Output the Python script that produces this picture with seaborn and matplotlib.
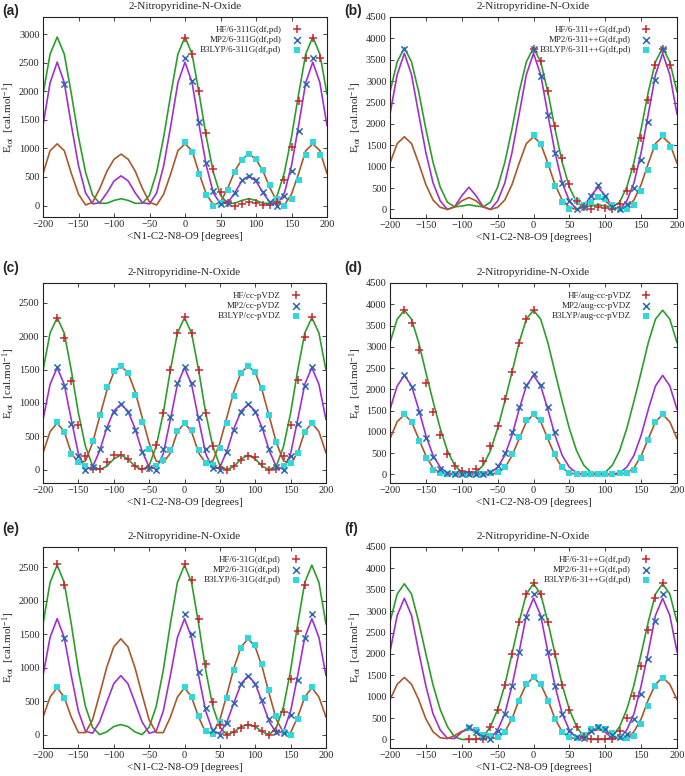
import matplotlib
matplotlib.use("Agg")
import matplotlib.pyplot as plt
import seaborn as sns
import numpy as np

# ---------------- data ----------------
ANG = list(range(-200, 201, 10))  # curve sample angles (deg)
R10 = lambda a, b: list(range(a, b + 1, 10))

# Panel (a) 6-311G(df,pd)
a_green = [1950, 2650, 2950, 2650, 1950, 1200, 580, 180, 40, 40, 90, 120, 90, 40, 40, 180, 580, 1200, 1950, 2650, 2950,
           2650, 1950, 1200, 580, 180, 40, 40, 90, 120, 90, 40, 40, 180, 580, 1200, 1950, 2650, 2950, 2650, 1950]
a_purple = [1400, 2150, 2510, 2150, 1400, 700, 220, 30, 50, 220, 430, 520, 430, 220, 50, 30, 220, 700, 1400, 2150, 2510,
            2150, 1400, 700, 220, 30, 50, 220, 430, 520, 430, 220, 50, 30, 220, 700, 1400, 2150, 2510, 2150, 1400]
a_brown = [560, 960, 1080, 960, 560, 200, 10, 60, 300, 600, 810, 900, 810, 600, 300, 60, 10, 200, 560, 960, 1080,
           960, 560, 200, 10, 60, 300, 600, 810, 900, 810, 600, 300, 60, 10, 200, 560, 960, 1080, 960, 560]
a_hf_x = R10(0, 190)
a_hf_y = [2940, 2660, 2010, 1270, 640, 230, 50, 0, 30, 60, 50, 10, 10, 60, 450, 1030, 1830, 2580, 2930, 2580]
a_mp2_x = [-170] + R10(0, 180)
a_mp2_y = [2120, 2590, 2180, 1460, 740, 250, 20, 40, 220, 440, 510, 440, 240, 60, 0, 170, 610, 1300, 2120, 2590]
a_b3_x = R10(0, 190)
a_b3_y = [1120, 930, 550, 180, 0, 40, 280, 580, 800, 910, 820, 630, 360, 110, 0, 110, 450, 880, 1120, 880]

# Panel (b) 6-311++G(df,pd)
b_green = [2750, 3450, 3780, 3450, 2750, 1880, 1100, 520, 170, 60, 80, 110, 80, 60, 170, 520, 1100, 1880, 2750, 3450, 3780,
           3450, 2750, 1880, 1100, 520, 170, 60, 80, 110, 80, 60, 170, 520, 1100, 1880, 2750, 3450, 3780, 3450, 2750]
b_purple = [2230, 3150, 3650, 3150, 2230, 1330, 620, 200, 0, 60, 320, 520, 320, 60, 0, 200, 620, 1330, 2230, 3150, 3650,
            3150, 2230, 1330, 620, 200, 0, 60, 320, 520, 320, 60, 0, 200, 620, 1330, 2230, 3150, 3650, 3150, 2230]
b_brown = [1080, 1540, 1700, 1540, 1080, 580, 220, 50, 0, 60, 200, 280, 200, 60, 0, 50, 220, 580, 1080, 1540, 1700,
           1540, 1080, 580, 220, 50, 0, 60, 200, 280, 200, 60, 0, 50, 220, 580, 1080, 1540, 1700, 1540, 1080]
b_hf_x = R10(0, 190)
b_hf_y = [3760, 3470, 2770, 1950, 1200, 600, 200, 50, 0, 50, 30, 0, 120, 430, 950, 1660, 2560, 3370, 3760, 3370]
b_mp2_x = [-180] + R10(0, 180)
b_mp2_y = [3760, 3760, 3110, 2210, 1330, 630, 200, 0, 50, 320, 560, 320, 50, 0, 120, 500, 1160, 2040, 3020, 3760]
b_b3_x = R10(0, 190)
b_b3_y = [1730, 1520, 1040, 540, 180, 10, 200, 100, 170, 300, 250, 100, 0, 0, 100, 420, 920, 1450, 1730, 1450]

# Panel (c) cc-pVDZ
c_green = [1490, 2050, 2280, 2050, 1490, 850, 350, 60, 0, 50, 160, 220, 160, 50, 0, 60, 350, 850, 1490, 2050, 2280,
           2050, 1490, 850, 350, 60, 0, 50, 160, 220, 160, 50, 0, 60, 350, 850, 1490, 2050, 2280, 2050, 1490]
c_purple = [750, 1280, 1530, 1280, 750, 240, 10, 40, 280, 620, 880, 980, 880, 620, 280, 40, 10, 240, 750, 1280, 1530,
            1280, 750, 240, 10, 40, 280, 620, 880, 980, 880, 620, 280, 40, 10, 240, 750, 1280, 1530, 1280, 750]
c_brown = [250, 570, 700, 570, 250, 100, 130, 400, 790, 1180, 1460, 1550, 1460, 1180, 790, 400, 130, 100, 250, 570, 700,
           570, 250, 100, 130, 400, 790, 1180, 1460, 1550, 1460, 1180, 790, 400, 130, 100, 250, 570, 700, 570, 250]
c_hf_x = R10(-180, 180)
c_hf_y = [2280, 1980, 1330, 665, 200, 10, 15, 115, 215, 225, 165, 50, 5, 25, 365, 850, 1490, 2055, 2290,
          2055, 1490, 855, 355, 30, 0, 60, 140, 210, 185, 80, 0, 10, 200, 665, 1340, 1990, 2290]
c_mp2_x = R10(-180, 180)
c_mp2_y = [1540, 1250, 690, 210, 0, 40, 310, 620, 860, 980, 870, 600, 270, 20, 0, 310, 790, 1300, 1540,
           1300, 790, 310, 20, 0, 270, 600, 870, 980, 870, 620, 310, 40, 0, 210, 690, 1250, 1540]
c_b3_x = R10(-180, 180)
c_b3_y = [715, 565, 240, 115, 60, 425, 815, 1240, 1480, 1550, 1450, 1115, 715, 315, 60, 150, 300, 580, 700,
          590, 300, 100, 70, 320, 700, 1110, 1450, 1550, 1470, 1220, 820, 420, 60, 100, 250, 560, 700]

# Panel (d) aug-cc-pVDZ
d_green = [3100, 3650, 3860, 3650, 3100, 2400, 1720, 1080, 560, 220, 50, 10, 50, 220, 560, 1080, 1720, 2400, 3100, 3650, 3860,
           3650, 3100, 2400, 1720, 1080, 560, 220, 50, 10, 50, 220, 560, 1080, 1720, 2400, 3100, 3650, 3860, 3650, 3100]
d_purple = [1530, 2080, 2330, 2080, 1530, 920, 450, 170, 40, 10, 0, 0, 0, 10, 40, 170, 450, 920, 1530, 2080, 2330,
            2080, 1530, 920, 450, 170, 40, 10, 0, 0, 0, 10, 40, 170, 450, 920, 1530, 2080, 2330, 2080, 1530]
d_brown = [840, 1240, 1410, 1240, 840, 440, 150, 40, 5, 0, 0, 0, 0, 0, 5, 40, 150, 440, 840, 1240, 1410,
           1240, 840, 440, 150, 40, 5, 0, 0, 0, 0, 0, 5, 40, 150, 440, 840, 1240, 1410, 1240, 840]
d_hf_x = R10(-180, 0)
d_hf_y = [3870, 3570, 2920, 2160, 1460, 920, 490, 200, 90, 50, 120, 310, 670, 1140, 1770, 2410, 3100, 3660, 3870]
d_mp2_x = R10(-180, 30)
d_mp2_y = [2340, 2060, 1470, 860, 410, 140, 40, 10, 0, 0, 0, 10, 50, 190, 510, 990, 1590, 2100, 2350, 2100, 1580, 990]
d_b3_x = R10(-180, 180)
d_b3_y = [1430, 1230, 790, 390, 110, 40, 20, 10, 0, 0, 10, 20, 30, 60, 180, 480, 880, 1270, 1430,
          1270, 880, 480, 180, 40, 10, 20, 20, 0, 0, 10, 30, 40, 100, 390, 800, 1230, 1420]

# Panel (e) 6-31G(df,pd)
e_green = [1650, 2270, 2530, 2270, 1650, 960, 420, 110, 0, 40, 120, 150, 120, 40, 0, 110, 420, 960, 1650, 2270, 2530,
           2270, 1650, 960, 420, 110, 0, 40, 120, 150, 120, 40, 0, 110, 420, 960, 1650, 2270, 2530, 2270, 1650]
e_purple = [880, 1450, 1730, 1450, 880, 350, 50, 20, 190, 480, 760, 880, 760, 480, 190, 20, 50, 350, 880, 1450, 1730,
            1450, 880, 350, 50, 20, 190, 480, 760, 880, 760, 480, 190, 20, 50, 350, 880, 1450, 1730, 1450, 880]
e_brown = [260, 560, 700, 560, 260, 30, 30, 220, 600, 1000, 1310, 1430, 1310, 1000, 600, 220, 30, 30, 260, 560, 700,
           560, 260, 30, 30, 220, 600, 1000, 1310, 1430, 1310, 1000, 600, 220, 30, 30, 260, 560, 700, 560, 260]
e_hf_x = [-180, -170] + R10(0, 170)
e_hf_y = [2550, 2230, 2550, 2310, 1720, 1050, 480, 150, 0, 40, 105, 150, 125, 50, 0, 50, 330, 830, 1540, 2230]
e_mp2_x = [-170] + R10(0, 180)
e_mp2_y = [1440, 1800, 1500, 930, 400, 70, 0, 180, 470, 750, 880, 760, 510, 230, 40, 20, 300, 810, 1440, 1800]
e_b3_x = [-180, -170] + R10(0, 180)
e_b3_y = [710, 540, 710, 560, 280, 50, 10, 190, 550, 960, 1290, 1440, 1340, 1050, 670, 280, 40, 0, 230, 540, 710]

# Panel (f) 6-31++G(df,pd)
f_green = [2750, 3400, 3640, 3400, 2750, 2000, 1270, 700, 300, 60, 0, 0, 0, 60, 300, 700, 1270, 2000, 2750, 3400, 3640,
           3400, 2750, 2000, 1270, 700, 300, 60, 0, 0, 0, 60, 300, 700, 1270, 2000, 2750, 3400, 3640, 3400, 2750]
f_purple = [2050, 2900, 3300, 2900, 2050, 1250, 600, 220, 30, 20, 170, 290, 170, 20, 30, 220, 600, 1250, 2050, 2900, 3300,
            2900, 2050, 1250, 600, 220, 30, 20, 170, 290, 170, 20, 30, 220, 600, 1250, 2050, 2900, 3300, 2900, 2050]
f_brown = [930, 1290, 1450, 1290, 930, 480, 180, 40, 20, 90, 190, 230, 190, 90, 20, 40, 180, 480, 930, 1290, 1450,
           1290, 930, 480, 180, 40, 20, 90, 190, 230, 190, 90, 20, 40, 180, 480, 930, 1290, 1450, 1290, 930]
f_hf_x = R10(-90, 180)
f_hf_y = [0, 0, 0, 300, 700, 1270, 2000, 2750, 3390, 3650, 3390, 2750, 2000, 1270, 700, 300, 50, 0, 0, 0,
          0, 200, 510, 1010, 1710, 2550, 3300, 3650]
f_mp2_x = R10(-90, 180)
f_mp2_y = [280, 180, 50, 0, 200, 600, 1250, 2050, 2870, 3400, 2870, 2050, 1250, 600, 200, 50, 30, 200, 300, 250,
           100, 50, 120, 470, 1060, 1880, 2780, 3400]
f_b3_x = R10(-90, 180)
f_b3_y = [270, 230, 100, 80, 50, 170, 470, 900, 1290, 1450, 1290, 900, 470, 170, 50, 30, 100, 250, 280, 250,
          150, 50, 30, 80, 360, 780, 1250, 1430]

basis = ["6-311G(df,pd)", "6-311++G(df,pd)", "cc-pVDZ", "aug-cc-pVDZ", "6-31G(df,pd)", "6-31++G(df,pd)"]
letters = ["(a)", "(b)", "(c)", "(d)", "(e)", "(f)"]
ytops = [3300, 4500, 2800, 4500, 2800, 4500]
ytickmax = [3000, 4500, 2500, 4500, 2500, 4500]

panels = [
    (a_green, a_purple, a_brown, a_hf_x, a_hf_y, a_mp2_x, a_mp2_y, a_b3_x, a_b3_y),
    (b_green, b_purple, b_brown, b_hf_x, b_hf_y, b_mp2_x, b_mp2_y, b_b3_x, b_b3_y),
    (c_green, c_purple, c_brown, c_hf_x, c_hf_y, c_mp2_x, c_mp2_y, c_b3_x, c_b3_y),
    (d_green, d_purple, d_brown, d_hf_x, d_hf_y, d_mp2_x, d_mp2_y, d_b3_x, d_b3_y),
    (e_green, e_purple, e_brown, e_hf_x, e_hf_y, e_mp2_x, e_mp2_y, e_b3_x, e_b3_y),
    (f_green, f_purple, f_brown, f_hf_x, f_hf_y, f_mp2_x, f_mp2_y, f_b3_x, f_b3_y),
]

# ---------------- style ----------------
sns.set_style("ticks")
plt.rcParams["font.family"] = ["Liberation Serif", "DejaVu Serif"]
plt.rcParams["mathtext.fontset"] = "custom"
plt.rcParams["mathtext.rm"] = "Liberation Serif"
plt.rcParams["mathtext.it"] = "Liberation Serif:italic"

GREEN = "#2a9e2a"
PURPLE = "#a12fd0"
BROWN = "#a9582a"
RED = "#c62830"
BLUE = "#2a68b0"
CYAN = "#30d8dc"

W, H = 685, 776
fig = plt.figure(figsize=(W / 100, H / 100), dpi=100)

# axes boxes in pixels: (left, top, right, bottom)
boxes = [(43, 17, 327, 217), (390, 17, 677, 218),
         (43, 283, 326, 483), (390, 283, 677, 483),
         (43, 547, 326, 748), (390, 547, 677, 748)]
label_pos = [(2, 11), (344, 11), (2, 268), (344, 268), (2, 529), (344, 529)]

for i, (box, pdata) in enumerate(zip(boxes, panels)):
    l, t, r, b = box
    ax = fig.add_axes([l / W, 1 - b / H, (r - l) / W, (b - t) / H])
    g, p, br, hx, hy, mx, my, bx, by = pdata
    sns.lineplot(x=ANG, y=g, ax=ax, color=GREEN, lw=1.2, legend=False)
    sns.lineplot(x=ANG, y=p, ax=ax, color=PURPLE, lw=1.2, legend=False)
    sns.lineplot(x=ANG, y=br, ax=ax, color=BROWN, lw=1.2, legend=False)
    sns.scatterplot(x=hx, y=hy, ax=ax, marker="+", s=30, color=RED, linewidth=1.1,
                    label="HF/" + basis[i], zorder=5)
    sns.scatterplot(x=mx, y=my, ax=ax, marker="x", s=20, color=BLUE, linewidth=1.1,
                    label="MP2/" + basis[i], zorder=5)
    sns.scatterplot(x=bx, y=by, ax=ax, marker="s", s=17, color=CYAN, linewidth=0,
                    label="B3LYP/" + basis[i], zorder=4)
    ax.set_xlim(-200, 200)
    ax.set_ylim(-200, ytops[i])
    ax.set_xticks(list(range(-200, 201, 50)))
    ax.set_yticks(list(range(0, ytickmax[i] + 1, 500)))
    ax.tick_params(direction="in", top=True, right=True, labelsize=7.5, length=3, width=0.6, pad=2.5)
    for s in ax.spines.values():
        s.set_linewidth(0.8)
        s.set_color("#222222")
    ax.set_xlabel("<N1-C2-N8-O9 [degrees]", fontsize=8, labelpad=2)
    ax.set_ylabel(r"E$_{\rm tot}$  [cal.mol$^{-1}$]", fontsize=8, labelpad=1.5)
    ax.set_title("2-Nitropyridine-N-Oxide", fontsize=8, pad=6)
    leg = ax.legend(loc="upper right", bbox_to_anchor=(0.925, 0.985), frameon=False, markerfirst=False,
                    fontsize=6.5, handletextpad=1.3, labelspacing=0.22, borderaxespad=0.2,
                    handlelength=0.8, markerscale=1.1)
    for txt in leg.get_texts():
        txt.set_ha("right")
    fig.text(label_pos[i][0] / W, 1 - label_pos[i][1] / H, letters[i], fontsize=10, fontweight="bold",
             family=["Liberation Sans", "DejaVu Sans"], va="center", ha="left")

fig.savefig("out.png", dpi=100)
